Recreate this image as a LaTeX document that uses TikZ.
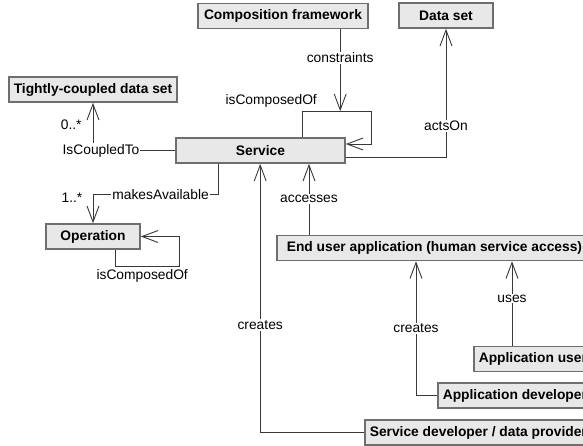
\documentclass[tikz,border=0pt]{standalone}
\usepackage{fontspec}
\setmainfont{Liberation Sans}
\usetikzlibrary{arrows.meta,positioning,calc}
\definecolor{boxfill}{HTML}{E8E8E8}
\definecolor{boxline}{HTML}{6E6E6E}
\definecolor{wire}{HTML}{383838}
\tikzstyle{block} = [
  rectangle, draw=boxline, fill=boxfill, line width=1.6pt,
  font=\fontsize{13.8}{16}\selectfont\bfseries, minimum height=25pt,
  inner sep=0pt
]
\tikzstyle{rblock} = [block, anchor=west, inner xsep=5pt]
\tikzstyle{lbl} = [font=\fontsize{13.8}{16}\selectfont, fill=white, inner sep=1pt]
\tikzstyle{plainlbl} = [font=\fontsize{13.8}{16}\selectfont, inner sep=1pt]
\tikzstyle{assoc} = [
  draw=wire, line width=0.9pt,
  -{Straight Barb[length=16pt, width=12pt, line width=0.9pt]}
]

\begin{document}
\begin{tikzpicture}[x=1pt, y=-1pt]
    \useasboundingbox (0,0) rectangle (583,446);
    \clip (0,0) rectangle (583,446);

    \node[block, minimum width=170pt] (comp) at (283,16) {Composition framework};
    \node[block, minimum width=94pt] (data) at (446,15.5) {Data set};
    \node[block, minimum width=168pt] (tight) at (93,89.5) {Tightly-coupled data set};
    \node[block, minimum width=169pt] (service) at (260.5,150.5) {Service};
    \node[block, minimum width=94pt] (op) at (93,236.5) {Operation};
    \node[rblock, inner xsep=10pt] (enduser) at (276,248) {End user application (human service access)};
    \node[rblock] (appuser) at (473,359) {Application user};
    \node[rblock] (appdev) at (437,395.5) {Application developer};
    \node[rblock] (servdev) at (364,432.5) {Service developer / data provider};

    % service side
    \draw[assoc] ([xshift=127pt]service.north west) -- ++(0,-26) coordinate (sloop)
      node[plainlbl, above=2pt, xshift=-31pt] {isComposedOf}
      -- ++(69,0) |- ([yshift=6.5pt]service.east);
    \draw[assoc] ([xshift=143pt]comp.south west) -- node[lbl, pos=0.35] {constraints}
      ([xshift=143pt]comp.south west |- sloop);
    \draw[assoc] ([yshift=-6.5pt]service.east) -| node[lbl, pos=0.62] {actsOn} (data.south);
    \draw[assoc] (service.west) -| node[lbl, pos=0.5, xshift=8pt] {IsCoupledTo}
      node[plainlbl, pos=0.77, left=10pt] {0..*} (tight.south);

    % operation
    \draw[assoc] ([xshift=43pt]service.south west) -- ++(0,31)
      -| node[lbl, pos=0.23] {makesAvailable}
         node[plainlbl, pos=0.5, xshift=-21pt, yshift=-3pt] {1..*} (op.north);
    \draw[assoc] ([xshift=70pt]op.south west) -- ++(0,17)
      -- node[plainlbl, below=1pt, xshift=-5pt] {isComposedOf} ++(64,0) |- (op.east);

    % applications and actors
    \draw[assoc] ([xshift=33pt]enduser.north west) -- node[lbl] {accesses}
      ([xshift=33pt]enduser.north west |- service.south);
    \draw[assoc] (servdev.west) -| node[lbl, pos=0.7] {creates} ([xshift=85pt]service.south west);
    \draw[assoc] (appdev.west) -| node[lbl, pos=0.75] {creates} ([xshift=140pt]enduser.south west);
    \draw[assoc] ([xshift=236pt]enduser.south west |- appuser.north) -- node[lbl, pos=0.56] {uses}
      ([xshift=236pt]enduser.south west);
\end{tikzpicture}
\end{document}
